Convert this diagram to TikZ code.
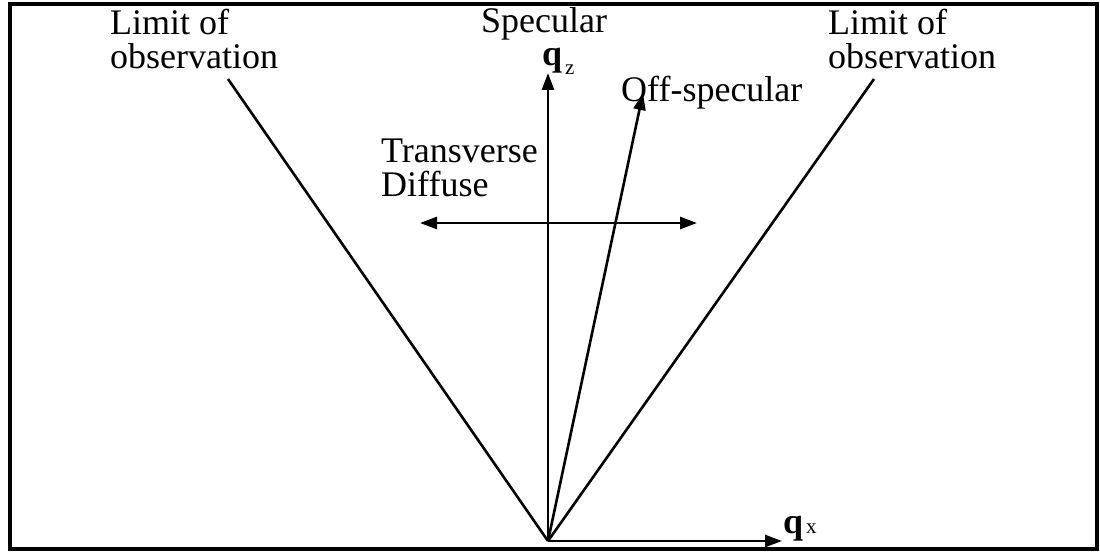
\documentclass[tikz,border=0pt]{standalone}
\usepackage{fontspec}
\setmainfont{Liberation Serif}
\usepackage{tikz}
\usetikzlibrary{arrows.meta, positioning}

\begin{document}
\begin{tikzpicture}[x=1pt, y=-1pt,
  lbl/.style={font=\fontsize{36}{34}\selectfont, inner sep=0pt, align=left},
  sub/.style={font=\fontsize{21}{21}\selectfont, inner sep=0pt},
  axis/.style={-{Triangle[length=17pt, width=12pt]}, line width=2.6pt},
  twoway/.style={{Triangle[length=17pt, width=12pt]}-{Triangle[length=17pt, width=12pt]}, line width=2.6pt},
  limit/.style={line width=2.6pt}
]
  \useasboundingbox (0,0) rectangle (1100,553);
  \draw[line width=3.5pt] (10,4) rectangle (1097,549);

  % scattering geometry
  \coordinate (origin) at (548,541);
  \coordinate (qztip) at (548,73);
  \coordinate (qxtip) at (782,541);
  \coordinate (offtip) at (643,93);
  \coordinate (limleft) at (228,79);
  \coordinate (limright) at (874,79);
  \coordinate (transleft) at (420,223);
  \coordinate (transright) at (697,223);

  \draw[limit] (origin) -- (limleft);
  \draw[limit] (origin) -- (limright);
  \draw[axis] (origin) -- (qztip);
  \draw[axis] (origin) -- (qxtip);
  \draw[axis] (origin) -- (offtip);
  \draw[twoway] (transleft) -- (transright);

  % labels
  \node[lbl, anchor=north west] (obsleft) at (110,9) {Limit of\\observation};
  \node[lbl, anchor=north west] (obsright) at (828,9) {Limit of\\observation};
  \node[lbl, anchor=base] (spec) at (544,33) {Specular};
  \node[lbl, anchor=base west] (offspec) at (621,102) {Off-specular};
  \node[lbl, anchor=north west] (transdiff) at (381,139) {Transverse\\Diffuse};
  \node[lbl, anchor=base west] (qz) at (542,66) {\textbf{q}};
  \node[sub, anchor=base west] (qzsub) at (565,75) {z};
  \node[lbl, anchor=base west] (qx) at (783,533) {\textbf{q}};
  \node[sub, anchor=base west] (qxsub) at (806,533) {x};
\end{tikzpicture}
\end{document}
